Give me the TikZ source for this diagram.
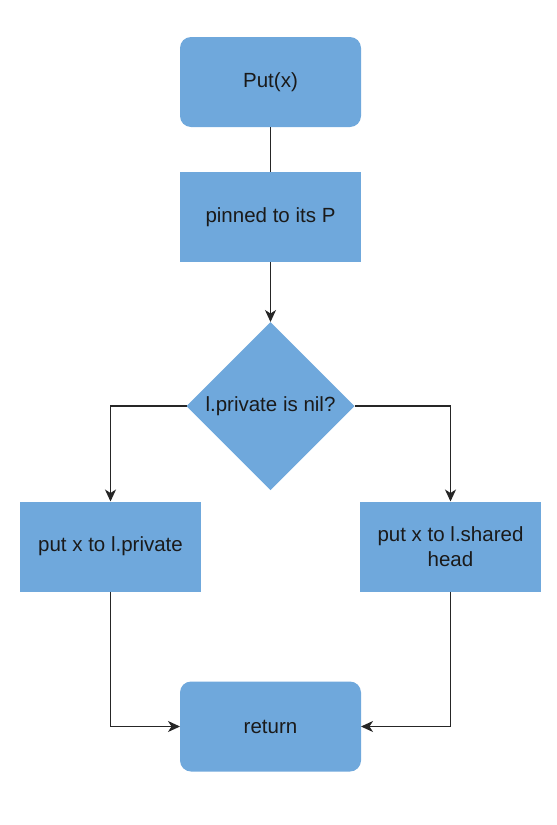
\documentclass[tikz,border=0pt]{standalone}
\usepackage{fontspec}
\setmainfont{Liberation Sans}
\usetikzlibrary{shapes.geometric,arrows.meta}
\definecolor{boxblue}{HTML}{6FA8DC}
\definecolor{txt}{HTML}{1A1A1A}
\tikzset{
         stepbox/.style={fill=boxblue,draw=none,minimum width=181pt,minimum height=90pt,inner sep=2pt,outer sep=0pt,text=txt,font=\fontsize{20.5}{24.5}\selectfont,align=center},
         roundbox/.style={stepbox,rounded corners=11pt},
         decbox/.style={diamond,fill=boxblue,draw=none,minimum width=168pt,minimum height=168pt,inner sep=0pt,outer sep=0pt,text=txt,font=\fontsize{20.5}{24.5}\selectfont},
         wire/.style={line width=1.6pt,draw=black!85,-{Stealth[length=12pt,width=11pt,inset=3.5pt]}}
        }
\begin{document}
\begin{tikzpicture}[x=1pt,y=-1pt]
      \useasboundingbox (0,0) rectangle (557,825); % page
      \node[roundbox] (put) at (270.5,82) {Put(x)}; % start
      \node[stepbox] (pin) at (270.5,217) {pinned to its P}; % pin
      \node[decbox] (dec) at (270.5,406) {l.private is nil?}; % decision
      \node[stepbox] (priv) at (110.5,546.5) {put x to l.private}; % left branch
      \node[stepbox] (shared) at (450.5,546.5) {put x to l.shared\\head}; % right branch
      \node[roundbox] (ret) at (270.5,726.5) {return}; % end
      \draw[line width=1.6pt,draw=black!85] (put) -- (pin); % Wiring
      \draw[wire] (pin) -- (dec); % Wiring
      \draw[wire] (dec.west) -| (priv.north); % Wiring
      \draw[wire] (dec.east) -| (shared.north); % Wiring
      \draw[wire] (priv.south) |- (ret.west); % Wiring
      \draw[wire] (shared.south) |- (ret.east); % Wiring
\end{tikzpicture}
\end{document}
